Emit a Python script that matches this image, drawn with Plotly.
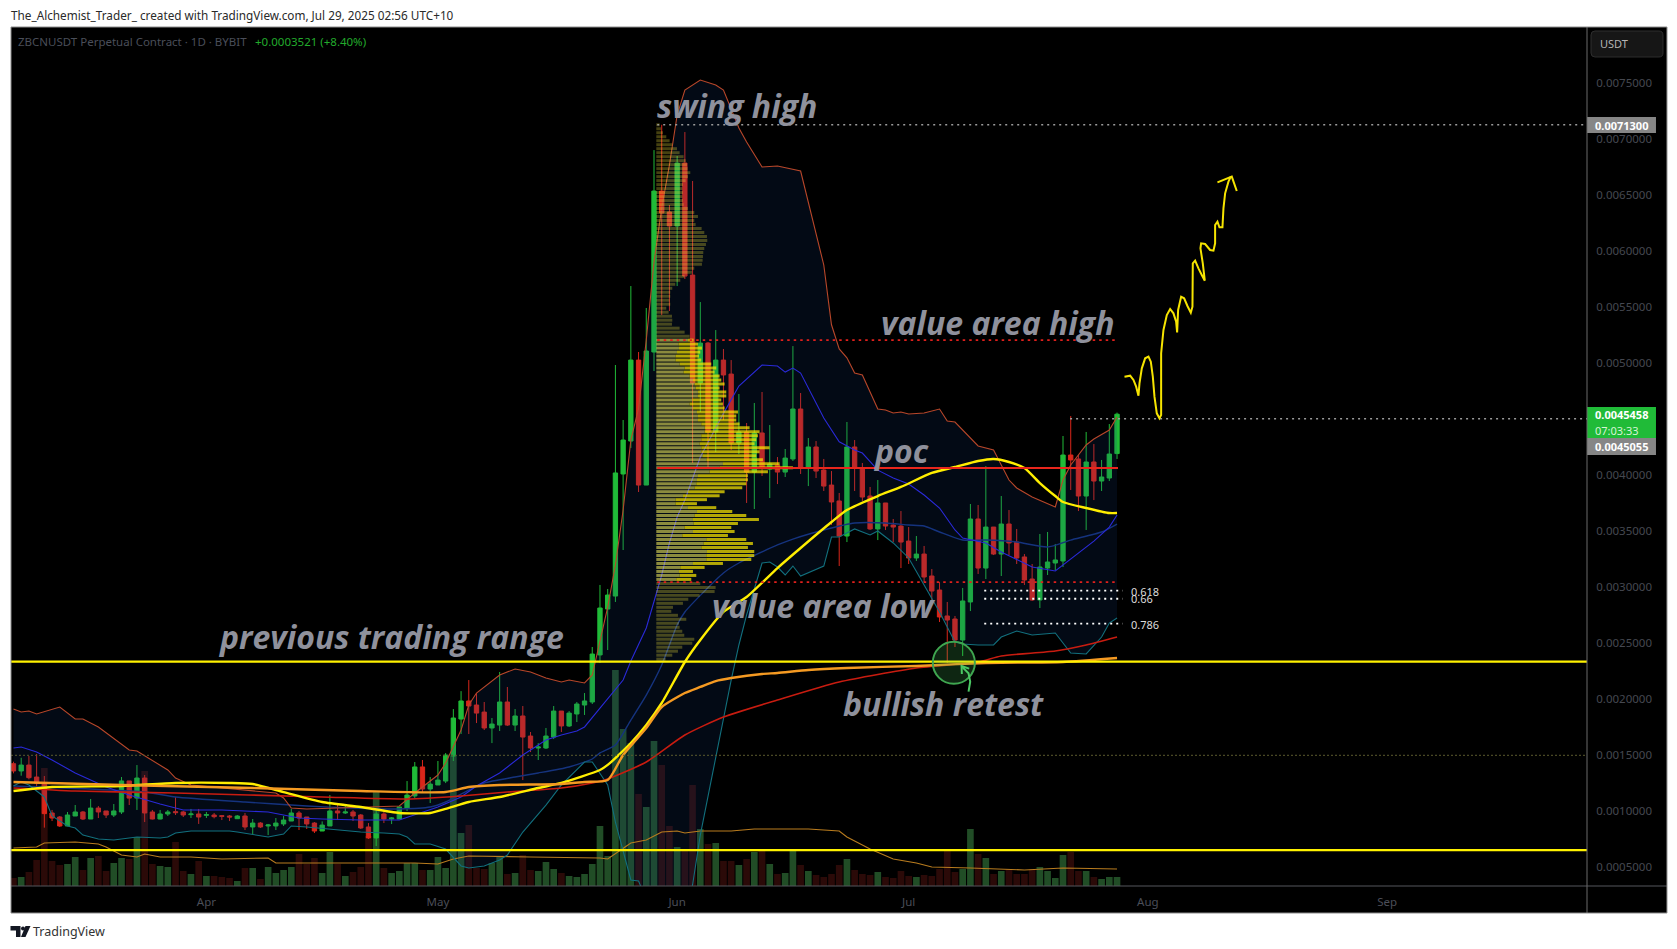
import pandas as pd
import numpy as np
import plotly.graph_objects as go

# ---------- candles, in units of 0.0001 USDT (one per day from 7 Mar 2025) ----------
START = "2025-03-07"
UNIT = 1e-4
opens = [
14.25,13.60,14.13,13.06,12.41,9.85,9.49,8.69,9.58,9.94,
9.31,10.29,10.03,9.67,9.94,12.71,11.18,12.97,9.94,9.31,
9.76,9.97,9.94,9.70,9.76,9.64,9.67,9.61,9.58,9.34,
9.58,8.60,8.95,8.69,8.69,8.87,9.13,9.85,9.49,8.95,
8.24,8.69,10.03,9.85,9.94,9.67,8.60,7.62,9.76,9.31,
9.31,10.29,11.37,13.96,11.99,12.35,12.70,14.93,18.24,19.85,
19.49,18.86,17.44,17.70,19.76,17.70,18.51,16.72,15.65,15.65,
16.63,18.95,17.62,18.69,19.49,19.76,23.96,28.06,29.22,40.12,
43.06,50.29,39.13,51.01,65.38,63.51,62.26,67.88,57.88,48.24,
51.81,43.87,50.29,49.04,42.88,43.87,40.29,43.78,40.56,40.92,
40.29,41.46,45.92,40.74,42.53,40.47,39.13,37.71,34.58,42.53,
40.65,38.15,35.21,37.53,35.56,35.47,34.13,32.62,32.97,31.01,
29.76,27.44,27.17,25.29,28.69,36.10,31.72,35.38,32.97,35.65,
34.04,32.71,30.74,28.87,31.72,32.17,32.35,41.81,41.46,38.15,
41.19,39.49,39.76,41.94]
highs = [
14.43,14.78,14.94,15.12,13.15,10.12,9.58,9.94,10.56,10.03,
11.10,10.47,10.03,10.65,13.06,12.71,14.13,13.24,10.12,10.12,
10.12,11.27,10.03,10.21,10.21,9.94,9.85,9.67,9.67,9.67,
9.85,9.31,9.04,8.87,9.40,9.58,10.21,10.03,9.49,9.04,
9.10,11.45,10.74,10.47,10.12,9.76,8.95,10.12,9.94,9.49,
10.39,12.70,14.40,14.58,13.06,14.49,15.20,19.13,20.73,21.72,
20.56,19.76,18.33,22.44,21.10,19.13,19.40,17.08,16.09,17.44,
19.40,18.95,18.95,19.76,20.56,24.67,30.21,29.85,49.85,44.94,
56.90,51.01,54.94,69.04,71.30,64.13,68.51,70.65,66.28,55.47,
51.90,52.97,51.28,50.29,47.26,44.67,46.46,47.44,44.49,41.63,
42.35,51.54,47.35,43.33,43.06,41.46,40.38,38.42,44.76,43.15,
41.10,38.96,39.58,37.53,36.10,36.81,35.38,34.58,33.69,31.63,
30.47,28.69,27.44,29.94,37.44,37.35,40.83,35.38,38.15,36.90,
35.21,32.97,32.08,34.76,34.94,33.87,43.51,45.29,41.81,43.87,
42.79,41.37,44.58,45.60]
lows = [
13.39,13.18,12.85,11.90,8.54,9.13,8.60,8.69,9.58,9.22,
9.31,9.40,9.40,9.49,9.76,10.56,10.12,9.04,9.28,9.28,
9.58,9.67,9.49,9.40,8.87,9.40,9.37,9.22,9.13,9.31,
8.33,7.97,8.51,7.88,8.33,8.69,9.13,8.33,8.42,8.06,
8.24,8.69,9.22,9.76,9.13,8.42,7.53,6.90,8.95,8.86,
9.31,10.03,11.19,11.72,10.74,12.35,12.52,14.49,16.90,16.90,
17.88,17.26,16.09,17.17,17.62,17.17,12.79,15.29,14.58,15.56,
16.45,17.08,17.53,17.97,18.60,19.58,23.24,24.40,28.69,33.33,
42.44,38.51,39.13,49.31,54.31,54.67,56.90,57.53,41.10,45.65,
40.74,42.08,44.94,42.26,41.90,37.53,36.99,39.94,37.97,39.22,
39.85,41.28,40.12,39.04,39.76,38.60,35.56,31.90,34.04,38.60,
37.71,35.12,34.22,35.12,34.04,31.72,32.08,32.35,30.47,28.87,
26.90,23.24,24.67,23.87,27.88,31.19,30.74,32.88,31.01,32.88,
32.08,30.21,28.78,28.15,31.10,31.54,31.81,38.69,36.81,35.12,
37.79,38.60,39.49,41.46]
closes = [
13.60,14.13,13.00,12.50,9.79,9.40,8.69,9.67,9.94,9.31,
10.29,9.94,9.67,10.03,12.71,11.18,12.97,9.85,9.31,9.76,
9.94,9.88,9.67,9.76,9.49,9.70,9.52,9.55,9.49,9.58,
8.60,8.95,8.60,8.78,8.95,9.22,9.85,9.40,8.87,8.24,
8.77,10.03,9.85,9.94,9.58,8.51,7.62,9.76,9.31,9.40,
10.39,11.45,13.96,11.99,12.43,12.79,15.02,18.33,19.85,19.40,
18.77,17.44,17.79,19.76,17.70,18.51,16.63,15.65,15.74,16.72,
18.95,17.62,18.77,19.58,19.85,24.04,28.15,29.31,40.21,43.15,
50.29,39.13,51.10,65.38,63.42,62.26,67.88,57.79,48.24,51.81,
43.87,50.29,48.96,42.88,43.87,40.29,43.78,40.74,41.01,40.29,
41.54,45.92,40.65,42.53,40.38,39.04,37.62,34.58,42.53,40.74,
38.06,35.21,37.53,35.47,35.38,34.04,32.62,32.97,30.92,29.67,
27.35,27.08,25.29,28.78,36.10,31.72,35.38,32.97,35.65,33.96,
32.62,30.65,28.87,31.81,32.26,32.44,41.81,41.37,38.15,41.19,
39.49,39.85,41.90,45.458]
volumes = [
8,9,14,26,118,25,21,22,29,16,28,30,15,23,28,27,49,115,22,20,19,44,15,12,25,10,10,9,8,5,18,18,7,19,13,16,19,32,22,
28,13,34,22,10,14,19,50,94,18,13,15,23,23,16,16,29,18,130,53,61,18,17,23,30,12,13,31,16,15,24,17,13,10,9,12,22,
60,30,216,157,143,92,79,145,121,60,39,37,101,57,42,43,25,25,21,27,34,36,22,12,13,36,21,15,11,9,12,21,27,16,12,11,14,9,8,15,10,9,11,10,17,37,14,17,57,32,28,12,15,17,12,12,17,19,15,8,31,34,15,15,9,7,9,9]

# ---------- indicators: day number since START, value in 0.0001 USDT ----------
upper_days = [0,1,2,3,6,8,9,11,15,16,20,21,23,34,35,36,38,48,50,52,55,56,58,59,60,63,65,67,69,71,72,74,75,77,78,79,80,81,82,83,84,85,86,87,89,91,92,94,95,97,99,102,105,106,107,108,109,110,112,113,114,115,116,118,120,121,122,125,127,129,130,132,134,135,136,137,139,140,142,143]
upper_vals = [19.13,18.87,18.96,18.69,19.31,18.24,18.24,17.53,15.47,15.38,13.69,12.97,12.35,11.63,11.19,10.29,10.21,10.38,10.47,11.63,13.24,14.31,17.26,19.49,20.56,22.17,22.71,22.44,21.90,21.55,21.72,21.46,22.17,28.24,31.99,36.90,43.15,45.98,52.08,59.04,63.87,67.71,72.17,74.40,75.29,74.85,74.40,71.01,69.76,67.53,67.62,67.17,58.78,53.44,51.29,50.49,49.13,48.96,45.92,45.83,45.56,45.65,45.47,45.56,45.92,44.85,44.76,42.62,42.26,39.58,38.87,38.06,37.44,37.17,39.58,40.92,42.71,43.24,44.04,45.21]
lower_days = [0,1,2,4,5,7,8,9,11,13,15,16,19,20,21,23,25,28,29,33,35,36,38,45,48,50,51,52,54,56,58,59,61,63,64,66,69,71,74,75,77,78,80,81,82,84,86,88,89,91,93,94,95,97,98,99,100,101,102,105,106,107,109,111,112,114,116,118,120,122,123,125,127,128,130,132,135,137,139,141,142,143]
lower_vals = [12.26,12.62,12.35,11.28,9.58,8.69,8.51,7.88,7.53,7.44,7.62,7.71,7.62,7.71,8.06,8.24,8.24,8.24,8.15,7.71,7.97,8.69,8.60,8.15,8.06,7.97,7.71,7.08,7.08,6.63,5.12,4.94,5.12,5.65,6.10,8.15,10.56,12.35,14.40,14.40,12.35,9.04,3.87,3.78,2.08,-2.38,-2.38,3.42,7.88,14.85,21.72,24.85,27.53,32.17,32.26,31.81,31.10,31.90,31.01,31.90,34.49,34.49,35.21,34.67,35.03,33.96,32.62,30.21,27.80,25.12,24.94,24.85,24.85,25.56,26.10,25.74,25.92,24.13,24.05,25.56,26.81,27.26]
basis_days = [0,1,3,5,8,12,15,19,22,27,33,37,40,45,50,52,55,58,60,63,66,69,71,73,74,76,78,79,80,82,84,85,86,87,89,92,94,97,99,100,101,102,105,107,109,110,112,114,116,118,120,122,123,126,128,132,135,137,140,142,143]
basis_vals = [15.65,15.74,15.29,14.58,13.42,12.17,11.46,10.65,10.12,10.12,9.94,9.40,9.31,9.22,9.22,9.67,10.38,11.28,12.26,13.42,15.03,16.37,16.81,17.17,17.53,19.22,20.83,21.72,23.42,26.37,31.10,33.96,36.28,37.80,41.63,45.53,47.97,49.85,49.76,49.22,49.58,49.13,45.12,42.99,42.26,41.99,40.46,39.76,39.22,38.24,37.08,35.12,34.40,33.96,33.15,31.81,31.46,32.52,34.13,35.38,36.46]
navy_days = [0,17,21,30,38,44,50,54,56,59,61,65,68,72,75,76,78,80,82,84,86,87,92,94,99,101,105,109,113,116,118,120,123,126,130,134,137,141,143]
navy_vals = [12.26,11.72,11.28,10.83,10.47,10.29,10.21,10.38,10.83,11.90,12.53,13.06,13.42,13.96,14.67,15.21,15.92,18.15,20.38,23.06,26.63,27.80,31.28,32.17,33.78,34.31,35.12,35.74,35.74,35.56,35.47,34.94,34.22,34.22,34.04,33.60,34.22,34.94,35.65]
yellow_days = [0,5,14,21,28,31,35,40,45,50,54,56,59,63,68,71,76,77,80,82,84,87,89,92,95,99,102,106,108,112,115,119,122,125,127,129,131,133,135,136,139,142,143]
yellow_vals = [11.81,12.17,12.26,12.53,12.53,12.44,11.72,10.83,10.38,9.85,9.85,10.21,10.83,11.28,12.08,12.53,13.69,14.14,16.10,17.71,19.67,23.33,25.29,27.80,29.13,31.72,33.51,35.83,36.90,38.15,38.96,40.21,40.74,41.28,41.46,41.19,40.65,39.31,38.15,37.62,37.08,36.63,36.63]
orange_days = [0,14,31,45,56,59,63,71,74,77,79,82,84,87,89,91,93,97,99,103,108,117,126,136,143]
orange_vals = [12.62,12.35,12.08,11.81,11.72,12.17,12.35,12.44,12.62,12.79,15.03,17.44,19.31,20.56,21.10,21.63,21.90,22.26,22.35,22.62,22.80,22.98,23.24,23.33,23.69]
red_days = [0,8,21,40,51,58,64,71,75,77,82,87,92,99,107,117,125,128,135,139,143]
red_vals = [12.08,11.81,11.63,11.28,11.10,11.37,11.72,12.08,12.53,12.89,14.40,16.81,18.42,19.94,21.55,22.80,23.33,23.87,24.31,24.85,25.56]
low_days = [0,3,4,8,11,12,14,16,17,19,23,27,33,34,52,55,57,59,67,76,77,80,82,84,86,87,89,93,96,103,107,108,111,114,117,119,124,131,136,143]
low_vals = [6.72,6.81,7.17,7.26,7.08,6.81,6.10,5.92,6.19,5.92,5.92,5.74,5.83,5.38,5.38,5.29,5.74,6.01,5.92,5.83,5.74,7.17,7.44,8.15,8.24,8.06,8.24,8.24,8.42,8.42,8.24,7.71,6.63,5.74,5.38,5.03,4.94,4.76,4.94,4.85]

# ---------- volume profile rows, top to bottom ----------
vp_above = [10,14,20,30,40,48,62,70,82,88,92,94,102,95,88,80,78,80,78,80,82,95,114,125,114,118,136,144,152,153,149,144,141,140,139,137,114,107,85,72,57,48,42,42,40,42,30,37,47,48,47,70,85,100]
vp_total = [112,125,137,132,128,135,165,180,175,190,195,205,190,210,210,195,200,205,245,240,240,250,280,310,305,300,295,340,310,300,320,370,410,335,275,275,270,258,205,190,152,122,180,228,270,308,245,225,235,215,270,290,275,294,294,285,200,145,110,120,105]
vp_inner = [95,67,68,62,58,58,70,85,82,100,110,115,118,125,125,108,100,110,122,125,125,135,145,145,135,135,130,135,135,140,150,200,190,160,125,122,120,115,95,80,58,58,95,122,115,110,112,85,110,78,150,142,135,152,150,150,110,72,68,70,60]
vp_below = [132,178,175,130,96,80,50,45,65,90,68,70,78,84,114,108,78,65,48,28]
VP_TOP = 71.30
VP_STEP = 0.3561

# ---------- levels (0.0001 USDT) ----------
SWING_HIGH = 71.30
VAH = 52.08
POC = 40.65
VAL = 30.47
RANGE_HIGH = 23.36
RANGE_LOW = 6.54
OLD_LEVEL = 15.0
LAST_HIGH = 45.055
FIB_LEVELS = [29.70, 28.98, 26.75]
FIB_LABELS = ["0.618", "0.66", "0.786"]

price_ticks = [0.0005*i for i in range(1, 16)]

# ---------- pane geometry in page pixels ----------
W, H = 1677, 949
PL, PR, PT, PB = 10.5, 1587.0, 27.0, 886.0
FR, FB = 1667.0, 913.0
Y_MIN, Y_MAX = 3.33*UNIT, 80.03*UNIT

def fx(p): return (p - PL) / (PR - PL)
def fy(p): return (PB - p) / (PB - PT)

dates = pd.date_range(START, periods=len(opens))
o, h, l, c = [np.array(a) * UNIT for a in (opens, highs, lows, closes)]
GREEN, RED = "#20bb38", "#da261a"
fig = go.Figure()

def band_x(days): return dates[np.array(days)]

# volume (main axes)
fig.add_trace(go.Bar(x=dates, y=volumes, xaxis="x", yaxis="y", hoverinfo="skip",
                     marker=dict(color=["#214d26" if a >= b else "#2b0a08" for a, b in zip(closes, opens)], line_width=0)))

# Bollinger fill
fig.add_trace(go.Scatter(
    x=list(band_x(upper_days)) + list(band_x(lower_days))[::-1],
    y=list(np.array(upper_vals)*UNIT) + list(np.array(lower_vals)*UNIT)[::-1],
    fill="toself", fillcolor="rgba(20,60,130,0.16)", mode="none", xaxis="x", yaxis="y2", hoverinfo="skip"))

# candles
fig.add_trace(go.Candlestick(
    x=dates, open=o, high=h, low=l, close=c, xaxis="x", yaxis="y2", whiskerwidth=0,
    increasing=dict(line=dict(color=GREEN, width=1), fillcolor=GREEN),
    decreasing=dict(line=dict(color=RED, width=1), fillcolor=RED), hoverinfo="skip"))

def line(days, vals, color, width, smooth=False):
    ln = dict(color=color, width=width)
    if smooth:
        ln.update(shape="spline", smoothing=0.6)
    fig.add_trace(go.Scatter(x=band_x(days), y=np.array(vals)*UNIT, mode="lines", xaxis="x", yaxis="y2",
                             line=ln, hoverinfo="skip"))
line(low_days, low_vals, "#b97c1e", 1.1)
line(navy_days, navy_vals, "#15337e", 1.4, True)
line(lower_days, lower_vals, "#12707e", 1.1)
line(upper_days, upper_vals, "#b8472a", 1.1)
line(basis_days, basis_vals, "#2a2ad8", 1.1)
line(red_days, red_vals, "#c81c10", 1.6, True)
line(yellow_days, yellow_vals, "#ffee00", 2.4, True)
line(orange_days, orange_vals, "#f59a22", 2.4, True)

# volume profile, on top of the candles (translucent)
n_a, n_v, n_b = len(vp_above), len(vp_total), len(vp_below)
vp_y = (VP_TOP - VP_STEP*np.arange(n_a + n_v + n_b)) * UNIT
row_h = 0.75 * VP_STEP * UNIT
dim = "rgba(255,240,60,0.27)"
fig.add_trace(go.Bar(x=vp_above, y=vp_y[:n_a], orientation="h", width=row_h, xaxis="x2", yaxis="y2",
                     marker=dict(color=dim, line_width=0), hoverinfo="skip"))
fig.add_trace(go.Bar(x=vp_inner, y=vp_y[n_a:n_a+n_v], orientation="h", width=row_h, xaxis="x2", yaxis="y2",
                     marker=dict(color="rgba(230,225,90,0.6)", line_width=0), hoverinfo="skip"))
fig.add_trace(go.Bar(x=[t-i for t, i in zip(vp_total, vp_inner)], base=vp_inner, y=vp_y[n_a:n_a+n_v], orientation="h",
                     width=row_h, xaxis="x2", yaxis="y2",
                     marker=dict(color="rgba(255,235,0,0.7)", line_width=0), hoverinfo="skip"))
fig.add_trace(go.Bar(x=vp_below, y=vp_y[n_a+n_v:], orientation="h", width=row_h, xaxis="x2", yaxis="y2",
                     marker=dict(color=dim, line_width=0), hoverinfo="skip"))

shapes = []
def pshape(**k):
    k.setdefault("xref", "paper"); k.setdefault("yref", "paper")
    shapes.append(k)
def prect(x0, y0, x1, y1, fill, line_color=None, layer="above"):
    pshape(type="rect", x0=fx(x0), x1=fx(x1), y0=fy(y1), y1=fy(y0), fillcolor=fill, layer=layer,
           line=dict(color=line_color or fill, width=1 if line_color else 0))
def ppath(points, color, width, layer="above", fill=None, close=False):
    d = "M " + " L ".join(f"{fx(a):.5f},{fy(b):.5f}" for a, b in points) + (" Z" if close else "")
    s = dict(type="path", path=d, line=dict(color=color, width=width), layer=layer)
    if fill: s["fillcolor"] = fill
    pshape(**s)

# black frame
prect(PL, PT, FR, FB, "#000000", layer="below")

def level(v, x0, x1, color, width, dash):
    shapes.append(dict(type="line", xref="x", yref="y2", x0=x0, x1=x1, y0=v*UNIT, y1=v*UNIT, layer="above",
                       line=dict(color=color, width=width, dash=dash)))
X_L, X_R = "2025-03-06 16:18", "2025-09-26 21:36"
VP_X = "2025-05-29 10:00"; END_X = "2025-07-28 03:00"
level(OLD_LEVEL, X_L, X_R, "#5c5a2e", 1, "2px,2px")
level(SWING_HIGH, VP_X, X_R, "#9a9a9a", 1.6, "2px,4px")
level(VAH, VP_X, END_X, "#e0201c", 1.8, "2.5px,4px")
level(VAL, VP_X, END_X, "#e0201c", 1.8, "2.5px,4px")
level(POC, VP_X, END_X, "#e8261c", 2, "solid")
level(RANGE_HIGH, X_L, X_R, "#fff200", 2.2, "solid")
level(RANGE_LOW, X_L, X_R, "#fff200", 2.2, "solid")
level(LAST_HIGH, "2025-07-21 22:00", X_R, "#9a9a9a", 1.6, "2px,4px")
for v in FIB_LEVELS:
    level(v, "2025-07-10 19:00", "2025-07-28 17:00", "#ffffff", 1.8, "2px,4px")

# retest circle
shapes.append(dict(type="circle", xref="x", yref="y2", x0="2025-07-04 03:00", x1="2025-07-09 14:00",
                   y0=21.39*UNIT, y1=25.14*UNIT, layer="above", fillcolor="rgba(70,190,90,0.2)",
                   line=dict(color="#3fa650", width=2)))
# hand-drawn arrows
z = lambda pts, ox, oy: [(ox + a/3, oy + b/3) for a, b in pts]
ppath(z([(205,935),(210,905),(205,880),(185,860)], 900, 380), "#4bc864", 2)
ppath(z([(185,882),(184,858),(207,866)], 900, 380), "#4bc864", 2)
sq = [(73,710),(90,707),(100,720),(108,740),(115,767),(118,730),(125,685),(135,655),(145,650),(152,665),(158,710),(163,770),(170,820),(178,835),(183,825),(183,640),(190,570),(200,525),(210,507),(220,520),(228,545),(231,577),(234,510),(243,470),(252,475),(262,498),(272,518),(277,500),(278,370),(285,362),(295,385),(305,405),(314,422),(308,370),(301,325),(303,310),(315,312),(330,330),(340,332),(345,310),(345,255),(352,245),(358,262),(367,262),(370,205),(375,160),(385,125),(392,110)]
ppath(z(sq, 1100, 140), "#f6e400", 2)
ppath(z([(352,127),(395,110),(410,153)], 1100, 140), "#f6e400", 2)

# price-scale flags and chrome
prect(1587, 117, 1656, 133, "#868686")
prect(1587, 407, 1656, 438, "#20bb38")
prect(1587, 438, 1656, 455, "#868686")
pshape(type="path", layer="above", fillcolor="#161616", line=dict(color="#2e2e2e", width=1),
       path=(f"M {fx(1595):.5f},{fy(31):.5f} L {fx(1659):.5f},{fy(31):.5f} Q {fx(1663):.5f},{fy(31):.5f} {fx(1663):.5f},{fy(35):.5f} "
             f"L {fx(1663):.5f},{fy(53):.5f} Q {fx(1663):.5f},{fy(57):.5f} {fx(1659):.5f},{fy(57):.5f} L {fx(1595):.5f},{fy(57):.5f} "
             f"Q {fx(1591):.5f},{fy(57):.5f} {fx(1591):.5f},{fy(53):.5f} L {fx(1591):.5f},{fy(35):.5f} Q {fx(1591):.5f},{fy(31):.5f} {fx(1595):.5f},{fy(31):.5f} Z"))
pshape(type="line", x0=fx(PL), x1=fx(FR), y0=fy(PB), y1=fy(PB), line=dict(color="#55565c", width=1), layer="above")
pshape(type="line", x0=fx(PR), x1=fx(PR), y0=fy(PT), y1=fy(FB), line=dict(color="#6a6a6a", width=1), layer="above")
pshape(type="rect", x0=fx(PL), x1=fx(FR), y0=fy(FB), y1=fy(PT), line=dict(color="#8c8c8c", width=1), layer="above")
# TradingView mark
ppath([(10,926),(20,926),(20,937),(15.5,937),(15.5,930.5),(10,930.5)], "#131722", 0, fill="#131722", close=True)
ppath([(25,926),(30,926),(25,937),(20.5,937)], "#131722", 0, fill="#131722", close=True)
pshape(type="circle", x0=fx(20.5), x1=fx(24.5), y0=fy(930.5), y1=fy(926.5), fillcolor="#131722", line_width=0, layer="above")

ann = []
def text(s, x, y, size, color, family="Noto Sans", anchor="left", **font):
    ann.append(dict(text=s, x=fx(x), y=fy(y), xref="paper", yref="paper", showarrow=False, xanchor=anchor, yanchor="middle",
                    xshift=-2, yshift=0, font=dict(family=family, size=size, color=color, **font)))
text("The_Alchemist_Trader_ created with TradingView.com, Jul 29, 2025 02:56 UTC+10", 10, 15, 11.75, "#2a2a2a")
text("ZBCNUSDT Perpetual Contract · 1D · BYBIT", 18, 41.5, 11.5, "#4a4e59")
text("+0.0003521 (+8.40%)", 254.5, 41.5, 11.5, "#22ab2c")
text("TradingView", 33, 931.5, 12.5, "#333333")
text("USDT", 1600, 44, 11, "#b4b4b4")
text("0.0071300", 1595.5, 125, 11, "#ffffff", weight="bold")
text("0.0045458", 1595.5, 415, 11, "#ffffff", weight="bold")
text("07:03:33", 1595.5, 430, 11, "#d6f5d6")
text("0.0045055", 1595.5, 446.5, 11, "#ffffff", weight="bold")
for s, y in zip(FIB_LABELS, [591, 598.5, 624]):
    text(s, 1131, y, 11, "#dcdcdc")
big = dict(size=32, color="#8f919c", family="Open Sans", weight="bold", style="italic")
for s, x, y in [("swing high", 657, 106), ("value area high", 881, 322), ("poc", 873, 450),
                ("value area low", 712, 605), ("previous trading range", 218, 637), ("bullish retest", 843, 703)]:
    text(s, x, y, **big)

fig.update_layout(
    width=W, height=H, autosize=False, showlegend=False, paper_bgcolor="#ffffff", plot_bgcolor="#000000",
    margin=dict(l=PL, r=W-PR, t=PT, b=H-PB, pad=0), barmode="overlay", bargap=0.14, boxgap=0.3, boxgroupgap=0.2,
    shapes=shapes, annotations=ann, hovermode=False,
    xaxis=dict(type="date", range=[X_L, X_R], dtick="M1", tick0="2025-01-01", tickformat="%b", showgrid=False, zeroline=False,
               ticks="outside", ticklen=5, tickcolor="rgba(0,0,0,0)", showline=False, rangeslider=dict(visible=False),
               tickfont=dict(family="Noto Sans", size=11.5, color="#4b4e58")),
    yaxis=dict(range=[0, PB-PT], visible=False, fixedrange=True),
    xaxis2=dict(overlaying="x", anchor="y2", visible=False, range=[-(656-PL)*3, (PR-656)*3]),
    yaxis2=dict(overlaying="y", side="right", anchor="x", range=[Y_MIN, Y_MAX], tickvals=price_ticks, tickformat=".7f",
                showgrid=False, zeroline=False, ticks="outside", ticklen=6, tickcolor="rgba(0,0,0,0)", showline=False,
                tickfont=dict(family="Noto Sans", size=11.5, color="#454850")),
)
fig.write_html("out.html", config=dict(displayModeBar=False), post_script="document.body.style.margin='0';")
